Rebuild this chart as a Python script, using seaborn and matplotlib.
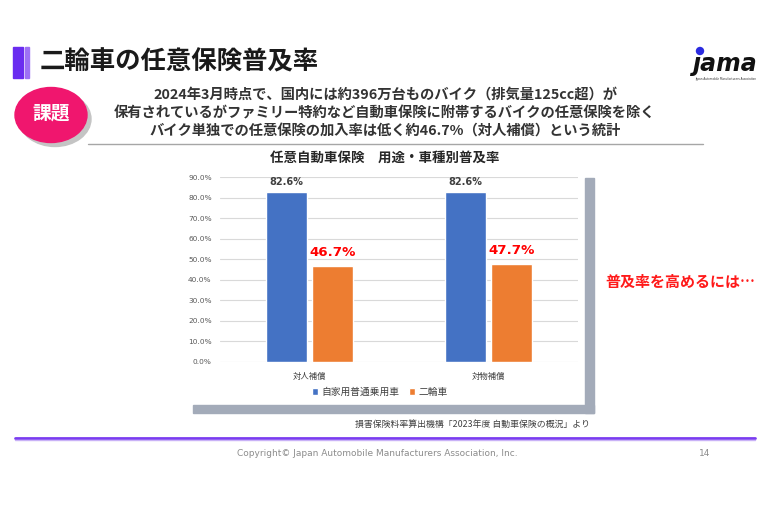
import matplotlib
matplotlib.use("Agg")
import matplotlib.pyplot as plt
from matplotlib.patches import Rectangle, Ellipse
from matplotlib.lines import Line2D
from matplotlib.ticker import FuncFormatter
import pandas as pd
import seaborn as sns

# chart data
coverage = ["対人補償", "対物補償"]
series_names = ["自家用普通乗用車", "二輪車"]
car_rate = [82.6, 82.6]
bike_rate = [46.7, 47.7]
y_ticks = [0, 10, 20, 30, 40, 50, 60, 70, 80, 90]

# slide texts
slide_title = "二輪車の任意保険普及率"
badge = "課題"
body_lines = [
    "2024年3月時点で、国内には約396万台ものバイク（排気量125cc超）が",
    "保有されているがファミリー特約など自動車保険に附帯するバイクの任意保険を除く",
    "バイク単独での任意保険の加入率は低く約46.7%（対人補償）という統計",
]
chart_title = "任意自動車保険　用途・車種別普及率"
callout = "普及率を高めるには…"
source = "損害保険料率算出機構「2023年度 自動車保険の概況」より"
footer = "Copyright© Japan Automobile Manufacturers Association, Inc."
page_no = "14"

df = pd.DataFrame({
    "補償": coverage * 2,
    "車種": [series_names[0]] * 2 + [series_names[1]] * 2,
    "普及率": car_rate + bike_rate,
})

sns.set_theme(style="white")
plt.rcParams["font.family"] = ["Noto Sans CJK JP", "DejaVu Sans"]

W, H = 768, 512
fig = plt.figure(figsize=(7.68, 5.12), dpi=100)
fig.patch.set_facecolor("white")


# pixel -> figure fraction
def fx(x):
    return x / W


def fy(y):
    return 1 - y / H


# gray shadow frame behind chart
frame_col = "#a3abb9"
fig.add_artist(Rectangle((fx(585), fy(413)), fx(9), 235 / H, transform=fig.transFigure,
                         color=frame_col, zorder=0))
fig.add_artist(Rectangle((fx(193), fy(413)), fx(401), 8 / H, transform=fig.transFigure,
                         color=frame_col, zorder=0))

ax = fig.add_axes([fx(220), fy(362), fx(578) - fx(220), fy(177) - fy(362)])
sns.barplot(data=df, x="補償", y="普及率", hue="車種", palette=["#4472c4", "#ed7d31"],
            width=0.514, gap=0.13, saturation=1, ax=ax)

ax.bar_label(ax.containers[0], fmt="%.1f%%", padding=4, fontsize=7, fontweight="bold",
             color="#404040", family="DejaVu Sans")
ax.bar_label(ax.containers[1], fmt="%.1f%%", padding=5, fontsize=9.6, fontweight="bold",
             color="#ff0000", family="DejaVu Sans")

ax.set_xlim(-0.5, 1.5)
ax.set_ylim(0, 90)
ax.set_yticks(y_ticks)
ax.yaxis.set_major_formatter(FuncFormatter(lambda v, p: f"{v:.1f}%"))
ax.set_xlabel("")
ax.set_ylabel("")
ax.tick_params(axis="y", labelsize=5.3, colors="#595959", length=0, pad=6)
ax.tick_params(axis="x", labelsize=6, colors="#404040", length=0, pad=7)
for t in ax.get_yticklabels():
    t.set_family("DejaVu Sans")
for s in ax.spines.values():
    s.set_visible(False)
ax.yaxis.grid(True, color="#d9d9d9", linewidth=0.8)
ax.set_axisbelow(True)
ax.set_facecolor("white")

sns.move_legend(ax, "center", bbox_to_anchor=(0.447, -0.162), ncol=2, frameon=False,
                title=None, fontsize=7, handlelength=0.6, handleheight=0.6,
                columnspacing=1.0, handletextpad=0.4)
for t in ax.get_legend().get_texts():
    t.set_color("#404040")

fig.text(fx(385), fy(158), chart_title, ha="center", va="center", fontsize=9.7,
         fontweight="bold", color="#262626")
fig.text(fx(590), fy(424), source, ha="right", va="center", fontsize=6.4, color="#404040")
fig.text(fx(605), fy(282), callout, ha="left", va="center", fontsize=10.8,
         fontweight="bold", color="#ff1a1a")

# header
fig.add_artist(Rectangle((fx(13), fy(78)), fx(10), 31 / H, transform=fig.transFigure,
                         color="#6a2cf0"))
fig.add_artist(Rectangle((fx(25), fy(78)), fx(4), 31 / H, transform=fig.transFigure,
                         color="#9d70f5"))
fig.text(fx(40), fy(62), slide_title, ha="left", va="center", fontsize=18.3,
         fontweight="bold", color="#1a1a1a")

# jama logo
fig.text(fx(724), fy(64), "ȷama", ha="center", va="center", fontsize=17,
         fontweight="bold", style="italic", family="DejaVu Sans", color="#111111")
fig.add_artist(Ellipse((fx(700), fy(51)), fx(7), 7 / H, transform=fig.transFigure,
                       color="#2b2be0"))
fig.text(fx(726), fy(79), "Japan Automobile Manufacturers Association", ha="center",
         va="center", fontsize=2, family="DejaVu Sans", color="#333333")

# badge
fig.add_artist(Ellipse((fx(55), fy(119)), fx(72), 55 / H, transform=fig.transFigure,
                       color="#c4c4c4"))
fig.add_artist(Ellipse((fx(51), fy(115)), fx(72), 55 / H, transform=fig.transFigure,
                       color="#f0166e"))
fig.text(fx(51), fy(113), badge, ha="center", va="center", fontsize=13.5,
         fontweight="bold", color="white")

for i, line in enumerate(body_lines):
    fig.text(fx(385), fy(95 + 18.5 * i), line, ha="center", va="center", fontsize=10.3,
             fontweight="bold", color="#333333")

fig.add_artist(Line2D([fx(88), fx(703)], [fy(144), fy(144)], transform=fig.transFigure,
                      color="#a6a6a6", linewidth=1))

# footer
fig.add_artist(Line2D([fx(15), fx(755)], [fy(438), fy(438)], transform=fig.transFigure,
                      color="#7a3cf0", linewidth=2))
fig.add_artist(Line2D([fx(15), fx(755)], [fy(440), fy(440)], transform=fig.transFigure,
                      color="#c9b2f7", linewidth=1))
fig.text(fx(237), fy(453), footer, ha="left", va="center", fontsize=6.5,
         family="DejaVu Sans", color="#8c8c8c")
fig.text(fx(705), fy(453), page_no, ha="center", va="center", fontsize=6.5,
         family="DejaVu Sans", color="#8c8c8c")

fig.savefig("out.png", dpi=100, facecolor="white")
